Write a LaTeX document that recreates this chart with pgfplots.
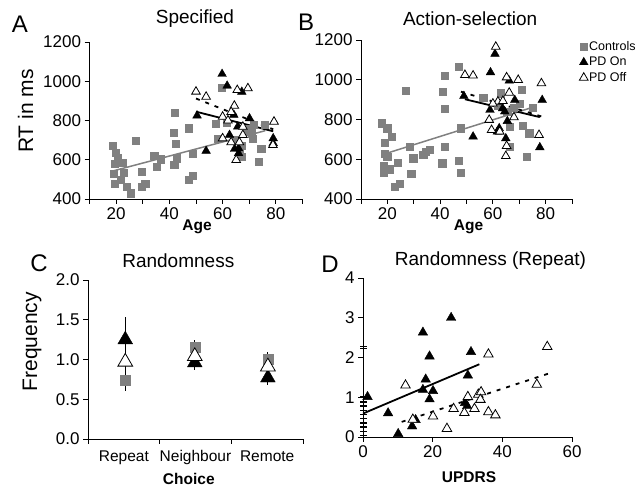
\documentclass[border=0pt]{standalone}
\usepackage{fontspec}
\setmainfont{Liberation Sans}
\usepackage{pgfplots}
\pgfplotsset{compat=1.18}

\definecolor{ctrlgray}{RGB}{128,128,128}

\pgfplotsset{
  panel/.style={
    scale only axis, enlargelimits=false, clip=false,
    axis x line*=bottom, axis y line*=left,
    axis line style={-, line width=0.8pt},
    tick align=outside, major tick length=5pt,
    tick style={black, line width=0.8pt},
    tick label style={font=\fontsize{17}{17}\selectfont},
    /pgf/number format/assume math mode=true,
    /pgf/number format/set thousands separator={},
    title style={font=\fontsize{19}{19}\selectfont, anchor=center},
    ylabel style={font=\fontsize{21}{21}\selectfont, anchor=center},
    xlabel style={font=\bfseries\fontsize{15.5}{15.5}\selectfont, anchor=center},
  },
  ctrl/.style={only marks, mark=square*, mark size=3.6pt, color=ctrlgray},
  pdon/.style={only marks, mark=triangle*, mark size=5pt, black},
  pdoff/.style={only marks, mark=triangle*, mark size=5pt, black,
    mark options={fill=white, line width=0.8pt}},
  fitgray/.style={ctrlgray, line width=1.5pt, no marks},
  fiton/.style={black, line width=1.8pt, no marks},
  fitoff/.style={black, line width=1.8pt, no marks, dash pattern=on 4pt off 6pt},
}

\begin{document}
\begin{tikzpicture}
\path[use as bounding box] (0,0) rectangle (637pt,487pt);

% A: Specified
\begin{axis}[panel, at={(89.5pt,288pt)}, anchor=south west,
  width=213pt, height=157pt,
  xmin=10, xmax=90, ymin=400, ymax=1200,
  xtick={10,20,...,90}, xticklabels={,20,,40,,60,,80,},
  ytick={400,600,...,1200},
  title={Specified}, title style={at={(axis description cs:0.495,1)}, yshift=17pt},
  ylabel={RT in ms}, ylabel style={at={(axis description cs:-0.3,0.56)}},
  xlabel={Age}, xlabel style={at={(axis description cs:0.505,-0.176)}},
]
\addplot[ctrl] coordinates {
(18.6,671)(19.9,637)(20.5,608)(19.5,580)(19.2,529)(19.5,476)(22.4,583)(22.8,536)
(21.7,498)(24.0,461)(25.6,430)(27.4,698)(29.5,541)(29.5,461)(30.9,478)(34.3,622)
(35.3,566)(36.6,603)(41.6,736)(41.8,575)(42.1,841)(42.4,681)(42.7,608)(47.4,761)
(47.4,498)(48.7,519)(48.8,629)(57.5,782)(58.2,709)(59.7,969)(67.0,672)(68.9,751)
(70.8,735)(71.4,709)(71.8,778)(75.8,780)(74.5,655)(73.5,590)(67.2,616)(64.5,700)
(66.5,640)(70.0,760)(61.5,790)
};
\addplot[fitgray] coordinates {(18,540)(76,748)};
\addplot[pdon] coordinates {
(59.8,1037)(61.7,977)(67.2,946)(50.4,825)(64.2,829)(70.1,811)(62.6,726)(65.7,769)
(66,658)(66,633)(53.8,645)(79,709)(79,684)(64.5,655)
};
\addplot[pdoff] coordinates {
(50,947)(53.8,921)(65.5,955)(69.5,964)(64.4,875)(60,819)(79.3,794)(60,709)
(63.2,689)(66.3,689)(65.1,599)(67.6,726)(78.9,675)(67.6,768)(63.2,843)(62,800)
};
\addplot[fiton] coordinates {(50,845)(79,745)};
\addplot[fitoff] coordinates {(50,912)(79,755)};
\end{axis}

% B: Action-selection
\begin{axis}[panel, at={(361pt,288pt)}, anchor=south west,
  width=211pt, height=159pt,
  xmin=10, xmax=90, ymin=400, ymax=1200,
  xtick={10,20,...,90}, xticklabels={,20,,40,,60,,80,},
  ytick={400,600,...,1200},
  title={Action-selection}, title style={at={(axis description cs:0.517,1)}, yshift=15pt},
  xlabel={Age}, xlabel style={at={(axis description cs:0.51,-0.173)}},
  legend style={at={(axis description cs:1.02,1.01)}, anchor=north west,
    draw=none, fill=none, font=\fontsize{12.5}{12.5}\selectfont,
    row sep=3pt, nodes={inner sep=1pt}},
  legend cell align=left,
]
\addplot[ctrl] coordinates {
(17.8,781)(19.1,683)(19.9,756)(19.1,627)(19.9,613)(18.7,566)(18.7,532)(20.7,550)
(21.6,714)(23.8,583)(22.9,462)(24.8,478)(27.0,945)(28.6,663)(29.0,529)(29.8,605)
(33.6,622)(34.6,639)(35.9,647)(40.9,940)(41.6,1019)(41.6,856)(41.6,663)(40.8,580)
(46.9,1066)(46.9,592)(47.8,533)(47.9,756)(56.3,910)(63.0,932)(65.4,839)(66.4,764)
(66.4,663)(70.9,948)(71.2,767)(70.1,880)(73.8,731)(72.8,613)(75,861)(62,870)(68,860)
};
\addplot[fitgray, forget plot] coordinates {(19,627)(75,861)};
\addplot[pdon] coordinates {
(60.8,1130)(59.1,1037)(66.2,995)(49,918)(58.9,848)(63.7,856)(68.3,898)(64.5,840)
(78.7,898)(62.4,756)(61.7,739)(52.5,714)(64.9,705)(65.5,792)(77.8,660)
};
\addplot[pdoff] coordinates {
(61.1,1166)(49.4,1024)(52.5,1021)(65.2,1012)(69.6,999)(78.4,982)(66.2,935)(61.9,890)
(63.8,893)(58.6,798)(68,811)(59.5,747)(62.6,739)(77.5,722)(65.2,667)(64.9,616)(60,880)
};
\addplot[fiton, forget plot] coordinates {(49.4,902)(77.8,812)};
\addplot[fitoff, forget plot] coordinates {(47.9,940)(80.2,808)};
\legend{Controls,PD On,PD Off}
\end{axis}

% C: Randomness
\begin{axis}[panel, at={(88pt,48pt)}, anchor=south west,
  width=215pt, height=159pt,
  xmin=0, xmax=3, ymin=0, ymax=2,
  xtick={0,1,2,3}, xticklabels={},
  extra x ticks={0.5,1.5,2.5}, extra x tick labels={Repeat,Neighbour,Remote},
  extra x tick style={major tick length=0pt,
    tick label style={yshift=-8pt, font=\fontsize{15.5}{15.5}\selectfont}},
  ytick={0,0.5,...,2},
  yticklabel style={/pgf/number format/.cd, fixed, fixed zerofill, precision=1},
  title={Randomness}, title style={at={(axis description cs:0.42,1)}, yshift=13pt},
  ylabel={Frequency}, ylabel style={at={(axis description cs:-0.26,0.612)}},
  xlabel={Choice}, xlabel style={at={(axis description cs:0.469,-0.25)}},
]
\addplot[ctrl, mark size=5pt,
  error bars/.cd, y dir=both, y explicit,
  error bar style={black, line width=0.8pt}, error mark options={black, mark size=4pt, line width=0.8pt}]
  coordinates {(0.52,0.74) +- (0,0.085) (1.49,1.15) +- (0,0.04) (2.51,1.0) +- (0,0.04)};
\addplot[pdon, mark size=8.5pt,
  error bars/.cd, y dir=both, y explicit,
  error bar style={black, line width=0.8pt}, error mark options={black, mark size=4pt, line width=0.8pt}]
  coordinates {(0.52,1.25) +- (0,0.23) (1.49,0.96) +- (0,0.04) (2.51,0.77) +- (0,0.04)};
\addplot[pdoff, mark size=8.5pt,
  error bars/.cd, y dir=both, y explicit,
  error bar style={black, line width=0.8pt}, error mark options={black, mark size=4pt, line width=0.8pt}]
  coordinates {(0.52,0.97) +- (0,0.11) (1.49,1.04) +- (0,0.05) (2.51,0.91) +- (0,0.05)};
\end{axis}

% D: Randomness (Repeat)
\begin{axis}[panel, at={(363pt,50pt)}, anchor=south west,
  width=209pt, height=159pt,
  xmin=0, xmax=60, ymin=0, ymax=4,
  xtick={0,20,40,60}, ytick={0,1,2,3,4},
  title={Randomness (Repeat)}, title style={at={(axis description cs:0.61,1)}, yshift=11pt},
  xlabel={UPDRS}, xlabel style={at={(axis description cs:0.507,-0.255)}},
]
\addplot[only marks, mark=-, mark size=3.5pt, black, mark options={line width=1.2pt}] coordinates {
(0,2.28)(0,2.23)(0,1.01)(0,0.88)(0,0.78)(0,0.67)(0,0.57)(0,0.46)(0,0.35)(0,0.25)(0,0.14)(0,0.04)
};
\addplot[pdon, mark size=5.5pt] coordinates {
(1.3,1.01)(7.2,0.60)(10.1,0.08)(14.1,0.27)(15.1,0.43)(17.2,2.63)(18,1.45)(17.2,1.19)
(19.1,2.03)(20.1,1.16)(19.1,0.95)(25.3,3.0)(31.0,2.14)(30.1,1.55)(29.3,0.86)(29.9,0.78)
};
\addplot[pdoff, mark size=5.5pt] coordinates {
(12.2,1.30)(14.3,0.44)(20.1,0.52)(24.1,0.21)(26.0,0.71)(29.1,0.61)(30.1,1.01)(32.0,0.71)
(33.1,1.07)(33.9,1.13)(33.7,0.94)(36.0,0.63)(38.0,0.55)(36.0,2.08)(49.9,1.32)(52.9,2.27)
};
\addplot[fiton] coordinates {(0,0.59)(33.4,1.83)};
\addplot[fitoff] coordinates {(11.1,0.38)(53.4,1.6)};
\end{axis}

\node[font=\fontsize{24}{24}\selectfont] at (20pt,463pt) {A};
\node[font=\fontsize{24}{24}\selectfont] at (306pt,465pt) {B};
\node[font=\fontsize{24}{24}\selectfont] at (39pt,224pt) {C};
\node[font=\fontsize{24}{24}\selectfont] at (330pt,223pt) {D};
\end{tikzpicture}
\end{document}
